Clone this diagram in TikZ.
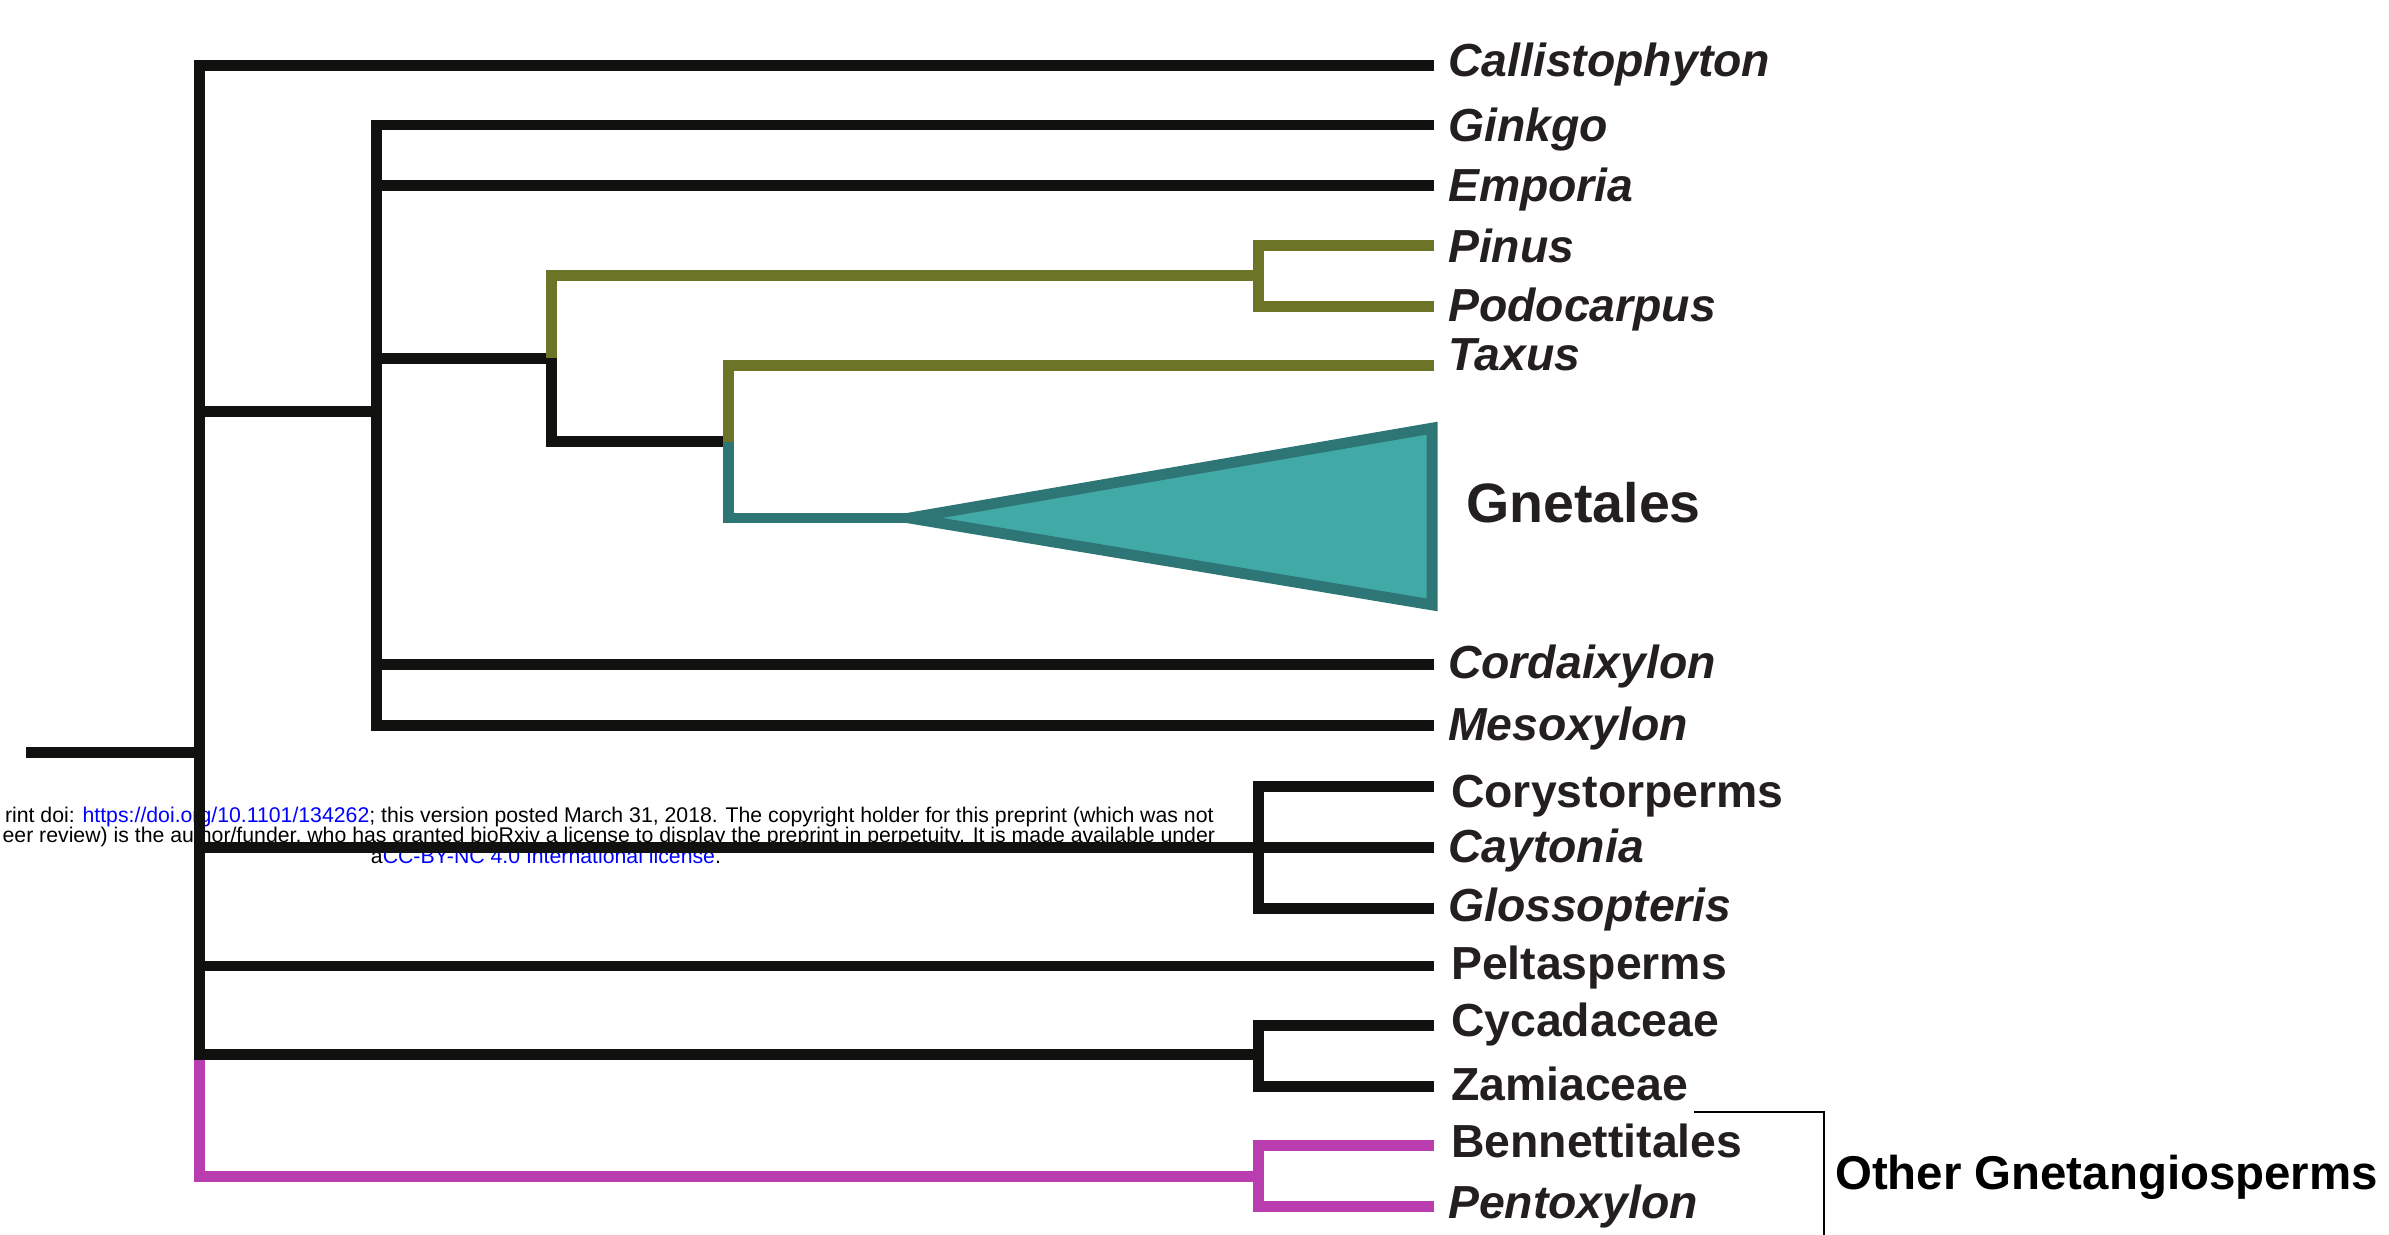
\documentclass[tikz,border=0pt]{standalone}
\usepackage{fontspec}
\setmainfont{Liberation Sans}
\definecolor{treeblk}{HTML}{111110}
\definecolor{cladeolive}{HTML}{6B7427}
\definecolor{tealedge}{HTML}{2E7676}
\definecolor{tealfill}{HTML}{42AAA6}
\definecolor{magentaclade}{HTML}{B93DAE}
\definecolor{labelblk}{HTML}{231F20}
\definecolor{linkblue}{HTML}{0000FF}
\tikzset{
  branch/.style={line width=3.1pt, line join=miter, line cap=butt},
  blk/.style={branch, draw=treeblk},
  olv/.style={branch, draw=cladeolive},
  tl/.style={branch, draw=tealedge},
  mag/.style={branch, draw=magentaclade},
  taxon/.style={anchor=base west, inner sep=0pt, text=labelblk, font=\fontsize{13.2}{15}\selectfont\bfseries\itshape},
  taxonup/.style={anchor=base west, inner sep=0pt, text=labelblk, font=\fontsize{13.2}{15}\selectfont\bfseries},
  bigclade/.style={anchor=base west, inner sep=0pt, text=labelblk, font=\fontsize{15.8}{18}\selectfont\bfseries},
  groupclade/.style={anchor=base west, inner sep=0pt, text=black, font=\fontsize{13.5}{16}\selectfont\bfseries},
  wm/.style={inner sep=0pt, text=black, font=\fontsize{6.05}{7}\selectfont},
  bracket/.style={draw=black, line width=0.5pt}
}
\begin{document}
\begin{tikzpicture}[x=0.015236cm,y=-0.015236cm]
\useasboundingbox (0,0) rectangle (1568,810);
% watermark (beneath the tree)
\node[wm, anchor=base east] (wm1) at (797,540) {rint doi: \textcolor{linkblue}{https://doi.org/10.1101/134262}; this version posted March 31, 2018. The copyright holder for this preprint (which was not};
\node[wm, anchor=base east] (wm2) at (798,553) {eer review) is the author/funder, who has granted bioRxiv a license to display the preprint in perpetuity. It is made available under};
\node[wm, anchor=base west] (wm3) at (243,567) {a\textcolor{linkblue}{CC-BY-NC 4.0 International license}.};

% internal nodes
\coordinate (r) at (17,494);
\coordinate (n0) at (131,494);
\coordinate (n1) at (247,270);
\coordinate (n2) at (362,235);
\coordinate (n3) at (826,181);
\coordinate (n4) at (478,290);
\coordinate (apex) at (597,340);
\coordinate (ncory) at (826,556);
\coordinate (ncyc) at (826,692);
\coordinate (nbenn) at (826,772);
% leaf ends
\coordinate (eCall) at (941,43);
\coordinate (eGink) at (941,82);
\coordinate (eEmp) at (941,122);
\coordinate (ePin) at (941,161);
\coordinate (ePodo) at (941,201);
\coordinate (eTax) at (941,240);
\coordinate (tTop) at (940,281);
\coordinate (tBot) at (940,397);
\coordinate (eCord) at (941,436);
\coordinate (eMeso) at (941,476);
\coordinate (eCory) at (941,516);
\coordinate (eCayt) at (941,556);
\coordinate (eGlos) at (941,596);
\coordinate (ePelt) at (941,634);
\coordinate (eCyca) at (941,673);
\coordinate (eZam) at (941,713);
\coordinate (eBenn) at (941,752);
\coordinate (ePent) at (941,792);

% tree
\draw[mag] (n0 |- ncyc) |- (nbenn);
\draw[mag] (nbenn) |- (eBenn);
\draw[mag] (nbenn) |- (ePent);
\draw[blk] (r) -- (n0);
\draw[blk] (n0) |- (eCall);
\draw[blk] (n0) |- (n1);
\draw[blk] (n0) |- (ncory);
\draw[blk] (n0) |- (ePelt);
\draw[blk] (n0) |- (ncyc);
\draw[blk] (n1) |- (eGink);
\draw[blk] (n1) |- (eEmp);
\draw[blk] (n1) |- (n2);
\draw[blk] (n1) |- (eCord);
\draw[blk] (n1) |- (eMeso);
\draw[olv] (n2) |- (n3);
\draw[blk] (n2) |- (n4);
\draw[olv] (n3) |- (ePin);
\draw[olv] (n3) |- (ePodo);
\draw[tl] (n4) |- (apex);
\draw[olv] (n4) |- (eTax);
\draw[tl, fill=tealfill] (apex) -- (tTop) -- (tBot) -- cycle;
\draw[blk] (ncory) |- (eCory);
\draw[blk] (ncory) -- (eCayt);
\draw[blk] (ncory) |- (eGlos);
\draw[blk] (ncyc) |- (eCyca);
\draw[blk] (ncyc) |- (eZam);

% labels
\node[taxon] (lCall) at (950,50) {Callistophyton};
\node[taxon] (lGink) at (950,93) {Ginkgo};
\node[taxon] (lEmp) at (950,132) {Emporia};
\node[taxon] (lPin) at (950,172) {Pinus};
\node[taxon] (lPodo) at (950,211) {Podocarpus};
\node[taxon] (lTax) at (950,243) {Taxus};
\node[bigclade] (lGnet) at (962,343) {Gnetales};
\node[taxon] (lCord) at (950,445) {Cordaixylon};
\node[taxon] (lMeso) at (950,486) {Mesoxylon};
\node[taxonup] (lCory) at (952,530) {Corystorperms};
\node[taxon] (lCayt) at (950,566) {Caytonia};
\node[taxon] (lGlos) at (950,605) {Glossopteris};
\node[taxonup] (lPelt) at (952,643) {Peltasperms};
\node[taxonup] (lCyca) at (952,680) {Cycadaceae};
\node[taxonup] (lZam) at (952,722) {Zamiaceae};
\node[taxonup] (lBenn) at (952,760) {Bennettitales};
\node[taxon] (lPent) at (950,800) {Pentoxylon};

% bracket
\coordinate (bA) at (1112,730);
\coordinate (bB) at (1197,815);
\draw[bracket] (bA) -| (bB);
\node[groupclade] (lOther) at (1204,781) {Other Gnetangiosperms};
\end{tikzpicture}
\end{document}
